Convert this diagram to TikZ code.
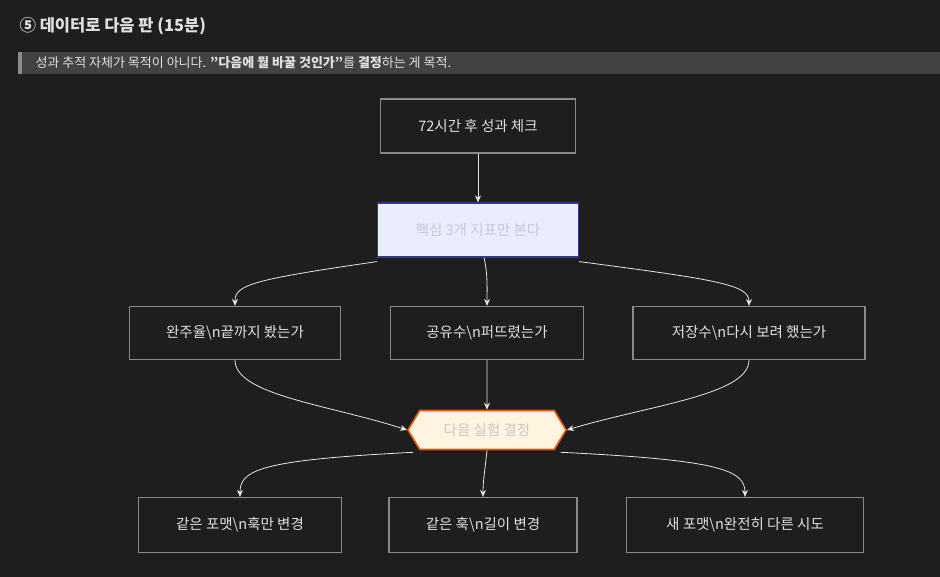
\documentclass[tikz,border=0pt]{standalone}
\usepackage{fontspec}
\setmainfont{Noto Sans CJK KR}
\usetikzlibrary{shapes.symbols,arrows.meta}
\definecolor{bg}{HTML}{1E1E1E}
\definecolor{txt}{HTML}{E0E0E0}
\definecolor{bd}{HTML}{8A8A8A}
\begin{document}
\begin{tikzpicture}[x=1pt,y=-1pt,
  box/.style={draw=bd,fill=bg,line width=1.2pt,text=txt,font=\fontsize{14.5}{16}\selectfont,inner sep=0},
  arr/.style={draw=txt!85,line width=0.8pt,-{Stealth[length=7pt,width=6pt]}}]
\fill[bg] (0,0) rectangle (940,577);
\useasboundingbox (0,0) rectangle (940,577);
\node[anchor=west,text=txt,font=\bfseries\fontsize{16.5}{18}\selectfont] (title) at (16,26) {⑤ 데이터로 다음 판 (15분)};
\fill[fill=white!16!bg] (18,52) rectangle (940,74);
\fill[fill=bd] (18,52) rectangle (22,74);
\node[anchor=west,text=txt,font=\fontsize{13}{14}\selectfont] (note) at (32,63) {성과 추적 자체가 목적이 아니다. \textbf{\symbol{34}다음에 뭘 바꿀 것인가\symbol{34}}를 \textbf{결정}하는 게 목적.};
\node[box,minimum width=195,minimum height=54] (A) at (478,126) {72시간 후 성과 체크};
\node[box,draw={rgb,255:red,46;green,58;blue,140},fill={rgb,255:red,236;green,236;blue,255},text={rgb,255:red,200;green,200;blue,210},minimum width=201,minimum height=54] (B) at (478,230) {핵심 3개 지표만 본다};
\node[box,minimum width=211,minimum height=53] (C1) at (235,333) {완주율\textbackslash n끝까지 봤는가};
\node[box,minimum width=193,minimum height=53] (C2) at (487,333) {공유수\textbackslash n퍼뜨렸는가};
\node[box,minimum width=232,minimum height=53] (C3) at (749,333) {저장수\textbackslash n다시 보려 했는가};
\node[signal,signal to=west and east,signal pointer angle=118,draw={rgb,255:red,232;green,89;blue,12},fill={rgb,255:red,255;green,244;blue,224},line width=1.6pt,text={rgb,255:red,200;green,200;blue,200},font=\fontsize{14.5}{16}\selectfont,minimum width=158,minimum height=39,inner xsep=4] (D) at (487,430) {다음 실험 결정};
\node[box,minimum width=203,minimum height=55] (E1) at (240,525) {같은 포맷\textbackslash n훅만 변경};
\node[box,minimum width=188,minimum height=55] (E2) at (483,525) {같은 훅\textbackslash n길이 변경};
\node[box,minimum width=237,minimum height=55] (E3) at (745,525) {새 포맷\textbackslash n완전히 다른 시도};
\draw[arr] (A) -- (B);
\draw[arr] ([yshift=-4]B.south west) .. controls (250,280) and (235,285) .. (C1.north);
\draw[arr] ([xshift=6]B.south) .. controls (488,275) and (487,290) .. (C2.north);
\draw[arr] ([yshift=-4]B.south east) .. controls (720,280) and (749,285) .. (C3.north);
\draw[arr] (C1.south) .. controls (235,395) and (330,405) .. (D.west);
\draw[arr] (C2) -- (D);
\draw[arr] (C3.south) .. controls (749,395) and (650,405) .. (D.east);
\draw[arr] ([xshift=-6,yshift=-2]D.south west) .. controls (260,460) and (240,470) .. (E1.north);
\draw[arr] (D.south) .. controls (485,470) and (483,480) .. (E2.north);
\draw[arr] ([xshift=6,yshift=-2]D.south east) .. controls (720,460) and (745,470) .. (E3.north);
\end{tikzpicture}
\end{document}
